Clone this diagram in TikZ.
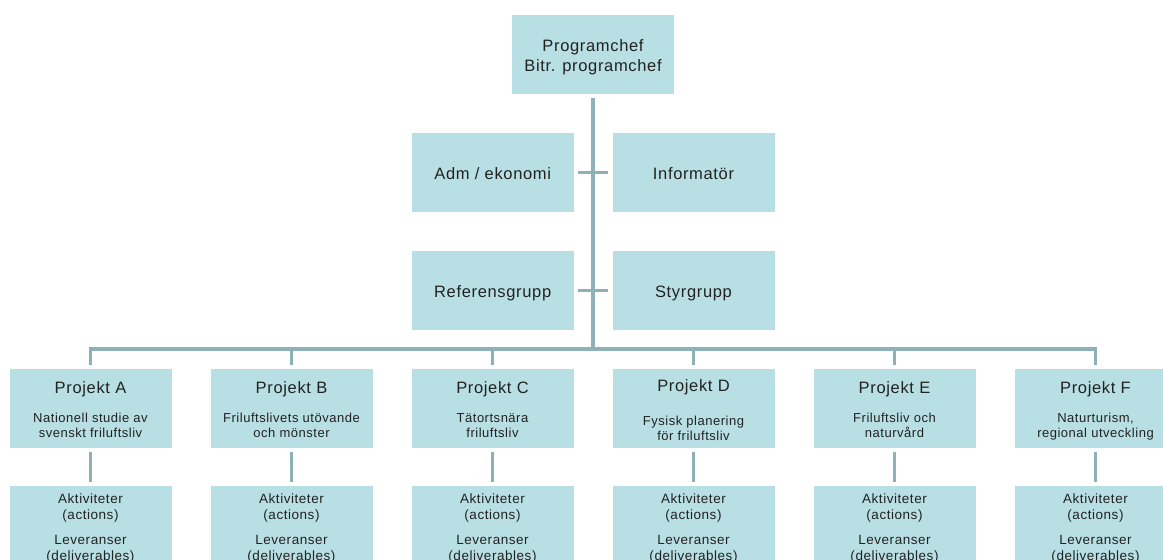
\documentclass[tikz,border=0pt]{standalone}
\usepackage{fontspec}
\setmainfont{Liberation Sans}[LetterSpace=4]
\definecolor{boxfill}{HTML}{B8DFE3}
\definecolor{linecol}{HTML}{8CB2B8}
\definecolor{textcol}{HTML}{222222}
\begin{document}
\begin{tikzpicture}[x=1pt,y=-1pt,
  box/.style={fill=boxfill, draw=none, minimum width=162pt, minimum height=79pt, inner sep=0pt},
  lowbox/.style={fill=boxfill, draw=none, minimum width=162pt, minimum height=84pt, inner sep=0pt},
  conn/.style={draw=linecol, line width=3.6pt},
  big/.style={anchor=base, inner sep=0pt, text=textcol, font=\fontsize{16.5}{20}\selectfont},
  small/.style={anchor=base, inner sep=0pt, text=textcol, font=\fontsize{13}{15}\selectfont},
  low/.style={anchor=base, inner sep=0pt, text=textcol, font=\fontsize{13.5}{16}\selectfont}]
\useasboundingbox (0,0) rectangle (1163,560);
\clip (0,0) rectangle (1163,560);

% top boxes
\node[box] (top) at (593,54.5) {};
\node[big] (topA) at (593,51.7) {Programchef};
\node[big] (topB) at (593,71.7) {Bitr. programchef};

\node[box] (adm) at (492.7,172.5) {};
\node[big] (admT) at (492.7,179.3) {Adm / ekonomi};
\node[box] (inf) at (693.5,172.5) {};
\node[big] (infT) at (693.5,179.3) {Informatör};

\node[box] (ref) at (492.7,290.5) {};
\node[big] (refT) at (492.7,297.5) {Referensgrupp};
\node[box] (sty) at (693.5,290.5) {};
\node[big] (styT) at (693.5,297.5) {Styrgrupp};

% projects
\foreach \n/\x/\la/\lb in {A/90.5/Nationell studie av/svenskt friluftsliv,
                           B/291.5/Friluftslivets utövande/och mönster,
                           C/492.5/Tätortsnära/friluftsliv,
                           E/894.5/Friluftsliv och/naturvård,
                           F/1095.5/{Naturturism,}/regional utveckling} {
  \node[box] (p\n) at (\x,408.5) {};
  \node[big] (p\n T) at (\x,393.3) {Projekt \n};
  \node[small] (p\n a) at (\x,422.5) {\la};
  \node[small] (p\n b) at (\x,437) {\lb};
}
\node[box] (pD) at (693.5,408.5) {};
\node[big] (pDT) at (693.5,391.7) {Projekt D};
\node[small] (pDa) at (693.5,425) {Fysisk planering};
\node[small] (pDb) at (693.5,440) {för friluftsliv};

% bottom boxes
\foreach \n/\x in {A/90.5,B/291.5,C/492.5,D/693.5,E/894.5,F/1095.5} {
  \node[lowbox] (a\n) at (\x,528) {};
  \node[low] (a\n1) at (\x,503.3) {Aktiviteter};
  \node[low] (a\n2) at (\x,519.5) {(actions)};
  \node[low] (a\n3) at (\x,544.5) {Leveranser};
  \node[low] (a\n4) at (\x,560.5) {(deliverables)};
  \draw[conn, shorten <=4pt, shorten >=4pt] (p\n.south) -- (a\n.north);
}

% connectors
\coordinate (bus) at (593,349);
\draw[conn, shorten <=4pt] (top.south) -- (bus);
\draw[conn, shorten <=4pt, shorten >=4pt] (adm.east) -- (inf.west);
\draw[conn, shorten <=4pt, shorten >=4pt] (ref.east) -- (sty.west);
\draw[conn, shorten >=4pt] (bus) -| (pA.north);
\draw[conn, shorten >=4pt] (bus) -| (pF.north);
\foreach \n in {B,C,D,E} {
  \draw[conn, shorten >=4pt] (p\n.north |- bus) -- (p\n.north);
}
\end{tikzpicture}
\end{document}
